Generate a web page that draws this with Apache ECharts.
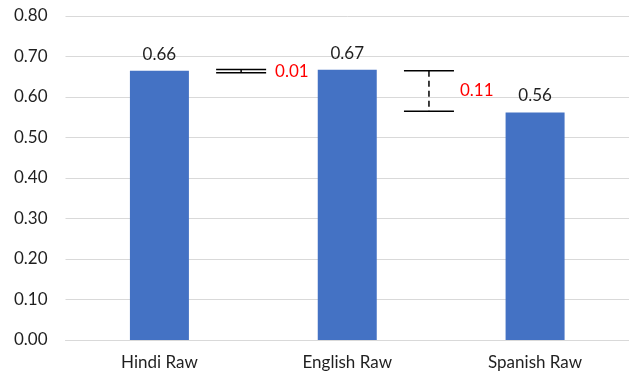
<!DOCTYPE html>
<html>
<head>
<meta charset="utf-8">
<script src="https://cdn.jsdelivr.net/npm/echarts@6/dist/echarts.min.js"></script>
<style>
html,body{margin:0;padding:0;background:#fff;}
#chart{width:629px;height:374px;}
</style>
</head>
<body>
<div id="chart"></div>
<script>
const categories = ['Hindi Raw', 'English Raw', 'Spanish Raw'];
const values = [0.665, 0.667, 0.562];
const valueLabels = ['0.66', '0.67', '0.56'];
const yTicks = [0, 0.1, 0.2, 0.3, 0.4, 0.5, 0.6, 0.7, 0.8];

const diffFrom = [0, 1];
const diffTo = [1, 2];
const diffHigh = [0.668, 0.665];
const diffLow = [0.660, 0.565];
const diffLabels = ['0.01', '0.11'];
const diffDashed = [false, true];

const FONT = 'Lato, "Open Sans", sans-serif';
const TEXT = '#1f1f1f';

const chart = echarts.init(document.getElementById('chart'));

const diffData = diffFrom.map((f, k) => [f, diffTo[k], diffHigh[k], diffLow[k]]);

chart.setOption({
  animation: false,
  backgroundColor: '#ffffff',
  grid: { left: 65.5, top: 16, bottom: 34, width: 567 },
  xAxis: {
    type: 'category',
    data: categories,
    boundaryGap: true,
    axisLine: { lineStyle: { color: '#D9D9D9', width: 1 } },
    axisTick: { show: false },
    axisLabel: { color: TEXT, fontSize: 17, fontFamily: FONT, margin: 14 }
  },
  yAxis: {
    type: 'value',
    min: yTicks[0],
    max: yTicks[yTicks.length - 1],
    interval: 0.1,
    axisLine: { show: false },
    axisTick: { show: false },
    splitLine: { lineStyle: { color: '#D9D9D9', width: 1 } },
    axisLabel: {
      color: TEXT, fontSize: 17, fontFamily: FONT, margin: 18,
      formatter: v => v.toFixed(2)
    }
  },
  series: [
    {
      type: 'bar',
      data: values,
      barWidth: 59,
      itemStyle: { color: '#4472C4' },
      label: {
        show: true,
        position: 'top',
        distance: 8,
        color: TEXT,
        fontSize: 17,
        fontFamily: FONT,
        formatter: p => valueLabels[p.dataIndex]
      }
    },
    {
      type: 'custom',
      data: diffData,
      encode: { x: 0, y: [2, 3] },
      z: 5,
      renderItem: function (params, api) {
        const k = params.dataIndex;
        const i = api.value(0);
        const hi = api.value(2);
        const lo = api.value(3);
        const band = api.size([1, 0])[0];
        const base = api.coord([i, hi]);
        const cx = base[0] + 0.435 * band;
        const yHi = base[1];
        const yLo = api.coord([i, lo])[1];
        const half = 25;
        const lineStyle = { stroke: '#000000', lineWidth: 1.5 };
        const children = [
          { type: 'line', shape: { x1: cx - half, y1: yHi, x2: cx + half, y2: yHi }, style: lineStyle },
          { type: 'line', shape: { x1: cx - half, y1: yLo, x2: cx + half, y2: yLo }, style: lineStyle },
          {
            type: 'line',
            shape: { x1: cx, y1: yHi, x2: cx, y2: yLo },
            style: { stroke: '#000000', lineWidth: 1.5, lineDash: diffDashed[k] ? [6, 4] : null }
          },
          {
            type: 'text',
            style: {
              x: cx + half + (diffDashed[k] ? 6 : 9),
              y: (yHi + yLo) / 2,
              text: diffLabels[k],
              fill: '#FF0000',
              font: '17px ' + FONT,
              align: 'left',
              verticalAlign: 'middle'
            }
          }
        ];
        return { type: 'group', children: children };
      }
    }
  ]
});
</script>
</body>
</html>
